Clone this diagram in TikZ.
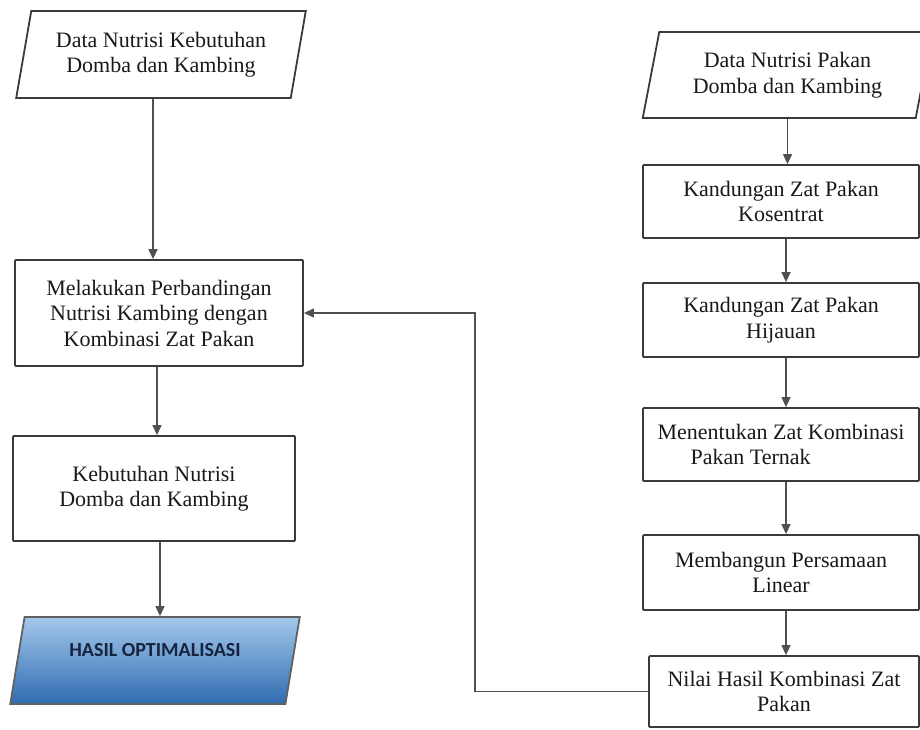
\documentclass[tikz,border=0pt]{standalone}
\usepackage{fontspec}
\setmainfont{Liberation Serif}
\newfontfamily\hasilfont{Carlito}
\usetikzlibrary{shapes.geometric,arrows.meta}

\definecolor{boxline}{HTML}{3A3A3A}
\definecolor{connline}{HTML}{505050}
\definecolor{hasiltop}{HTML}{A4C8EC}
\definecolor{hasilbot}{HTML}{2F6CB0}
\definecolor{hasiltext}{HTML}{17243F}

\tikzset{
  boxtext/.style={font=\fontsize{22}{25.5}\selectfont, text=black!90, align=center},
  iobox/.style={trapezium, trapezium left angle=75, trapezium right angle=105,
    trapezium stretches=true, draw=boxline, line width=1.8pt, inner sep=0pt,
    minimum width=290, minimum height=87, boxtext},
  procbox/.style={rectangle, draw=boxline, line width=1.8pt, rounded corners=1pt,
    inner sep=0pt, boxtext},
  flow/.style={draw=connline, line width=1.3pt,
    -{Triangle[length=10pt,width=9pt]}}
}

\begin{document}
\begin{tikzpicture}[x=1pt,y=-1pt]
  \useasboundingbox (0,0) rectangle (920,729);

  \node[iobox] (dkeb) at (161,54.5) {Data Nutrisi Kebutuhan\\Domba dan Kambing};
  \node[procbox, minimum width=288, minimum height=106] (banding) at (159,313)
    {Melakukan Perbandingan\\Nutrisi Kambing dengan\\Kombinasi Zat Pakan};
  \node[procbox, minimum width=282, minimum height=105] (kebutuhan) at (154,488.5)
    {Kebutuhan Nutrisi\\Domba dan Kambing};
  \node[iobox, draw=boxline!80, top color=hasiltop, bottom color=hasilbot,
    font=\hasilfont\bfseries\fontsize{20}{22}\selectfont, text=hasiltext] (hasil) at (155,660.5)
    {HASIL OPTIMALISASI\\\mbox{}};

  \node[iobox, minimum width=290, minimum height=86] (dpakan) at (787.5,75)
    {Data Nutrisi Pakan\\Domba dan Kambing};
  \node[procbox, minimum width=276, minimum height=73] (kosentrat) at (781,201.5)
    {Kandungan Zat Pakan\\Kosentrat};
  \node[procbox, minimum width=276, minimum height=74] (hijauan) at (781,320)
    {Kandungan Zat Pakan\\Hijauan};
  \node[procbox, minimum width=276, minimum height=73, align=left] (kombinasi) at (781,444.5)
    {Menentukan Zat Kombinasi\\\hspace*{33pt}Pakan Ternak\hspace*{33pt}};
  \node[procbox, minimum width=276, minimum height=75] (persamaan) at (781,572.5)
    {Membangun Persamaan\\Linear};
  \node[procbox, minimum width=270, minimum height=71] (nilai) at (784,691.5)
    {Nilai Hasil Kombinasi Zat\\Pakan};

  \draw[flow] ([xshift=-8pt]dkeb.south) -- ([xshift=-8pt]dkeb.south |- banding.north);
  \draw[flow] ([xshift=-2pt]banding.south) -- ([xshift=-2pt]banding.south |- kebutuhan.north);
  \draw[flow] ([xshift=6pt]kebutuhan.south) -- ([xshift=6pt]kebutuhan.south |- hasil.north);

  \draw[flow] (dpakan.south) -- (dpakan.south |- kosentrat.north);
  \draw[flow] ([xshift=5pt]kosentrat.south) -- ([xshift=5pt]kosentrat.south |- hijauan.north);
  \draw[flow] ([xshift=5pt]hijauan.south) -- ([xshift=5pt]hijauan.south |- kombinasi.north);
  \draw[flow] ([xshift=5pt]kombinasi.south) -- ([xshift=5pt]kombinasi.south |- persamaan.north);
  \draw[flow] ([xshift=5pt]persamaan.south) -- ([xshift=5pt]persamaan.south |- nilai.north);

  \draw[flow] (nilai.west) -- ++(-173,0) |- (banding.east);
\end{tikzpicture}
\end{document}
